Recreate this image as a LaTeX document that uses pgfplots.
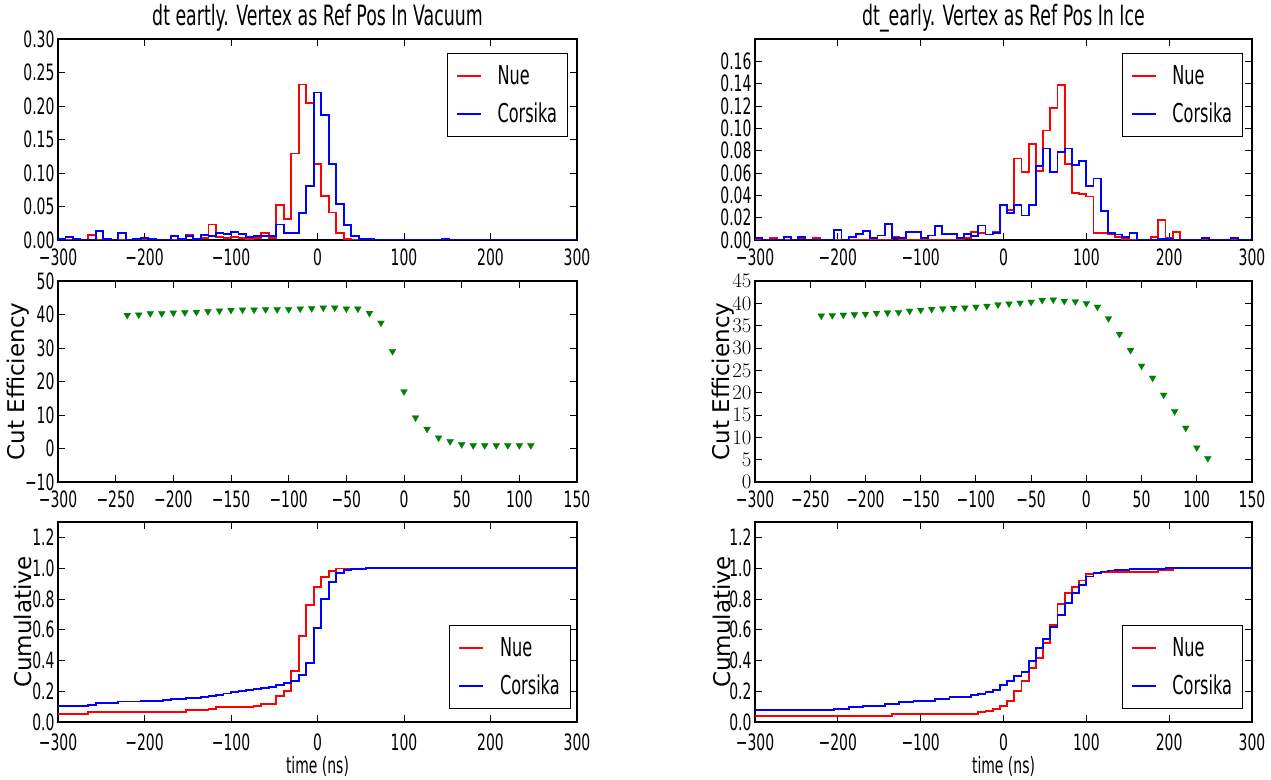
\documentclass[border=0pt]{standalone}
\usepackage{fontspec}
\setmainfont{DejaVu Sans}[FakeStretch=0.62]
\newfontfamily\ylabfont{DejaVu Sans}
\usepackage{pgfplots}
\pgfplotsset{compat=1.18}

\definecolor{mplgreen}{rgb}{0,0.5,0}

\pgfplotsset{
  mpl/.style={
    scale only axis,
    tick align=inside,
    major tick length=7pt,
    axis line style={line width=1.1pt},
    every tick/.append style={line width=0.8pt, black},
    tick label style={font=\fontsize{22.5}{24}\selectfont},
    xticklabel style={yshift=-5pt},
    title style={font=\fontsize{28}{30}\selectfont, at={(axis description cs:0.5,1.075)}, anchor=center},
    xlabel style={font=\fontsize{22.5}{24}\selectfont, at={(axis description cs:0.5,-0.222)}, anchor=center},
    ylabel style={font=\fontsize{23}{26}\ylabfont, anchor=center},
    legend style={draw=black, line width=1.2pt, font=\fontsize{26}{28}\selectfont,
      inner xsep=8.5pt, inner ysep=10pt, row sep=13pt, cells={anchor=west},
      /tikz/every odd column/.append style={column sep=14pt}},
    legend image code/.code={\draw[#1, line width=1.8pt] (0pt,0pt) -- (24pt,0pt);},
  },
  hist/.style={mpl, xmin=-300, xmax=300, ymin=0,
    xtick={-300,-200,...,300}, xticklabels={−300,−200,−100,0,100,200,300}},
  eff/.style={mpl, xmin=-300, xmax=150,
    xtick={-300,-250,...,150}, xticklabels={−300,−250,−200,−150,−100,−50,0,50,100,150},
    ylabel={Cut Efficiency}},
  cum/.style={mpl, xmin=-300, xmax=300, ymin=0, ymax=1.3,
    xtick={-300,-200,...,300}, xticklabels={−300,−200,−100,0,100,200,300},
    xticklabel style={yshift=-3pt},
    ytick={0,0.2,0.4,0.6,0.8,1.0,1.2}, yticklabels={0.0,0.2,0.4,0.6,0.8,1.0,1.2},
    xlabel={time (ns)}, ylabel={Cumulative}},
  nue/.style={red, line width=1.8pt, const plot},
  cors/.style={blue, line width=1.8pt, const plot},
  tri/.style={only marks, mplgreen, mark=triangle*, mark size=4pt,
    mark options={rotate=180, fill=mplgreen, draw=mplgreen, line width=0.2pt}},
}

\begin{document}
\begin{tikzpicture}
\useasboundingbox (0pt,0pt) rectangle (1271pt,779pt);

% ---------- top left: histogram, vacuum
\begin{axis}[hist, at={(58pt,539pt)}, anchor=south west, width=519pt, height=201pt,
  ymax=0.30, ytick={0,0.05,0.1,0.15,0.2,0.25,0.3},
  yticklabels={0.00,0.05,0.10,0.15,0.20,0.25,0.30},
  title={dt eartly. Vertex as Ref Pos In Vacuum},
  legend style={at={(0.983,0.930)}, anchor=north east}]
\addplot[nue] coordinates {
(-300,0) (-265.22,0.008) (-256.52,0) (-213.04,0.002) (-204.35,0) (-152.17,0.008)
(-143.48,0.001) (-134.78,0.003) (-126.09,0.023) (-117.39,0.004) (-108.70,0.003)
(-100.00,0.0045) (-91.30,0.003) (-82.61,0.002) (-73.91,0.003) (-65.22,0.011)
(-56.52,0.003) (-47.83,0.052) (-39.13,0.031) (-30.43,0.129) (-21.74,0.232)
(-13.04,0.205) (-4.35,0.114) (4.35,0.066) (13.04,0.041) (21.74,0.010)
(30.43,0.001) (39.13,0) (300,0)};
\addlegendentry{Nue}
\addplot[cors] coordinates {
(-300,0.001) (-291.30,0.004) (-282.61,0.001) (-273.91,0) (-256.52,0.014)
(-247.83,0.001) (-239.13,0) (-230.43,0.010) (-221.74,0) (-213.04,0.001)
(-204.35,0.003) (-195.65,0.001) (-186.96,0) (-169.57,0.006) (-160.87,0.002)
(-152.17,0.006) (-143.48,0.002) (-134.78,0.008) (-126.09,0.006) (-117.39,0.010)
(-108.70,0.009) (-100.00,0.012) (-91.30,0.009) (-82.61,0.004) (-73.91,0.006)
(-65.22,0.006) (-56.52,0.006) (-47.83,0.023) (-39.13,0.010) (-30.43,0.011)
(-21.74,0.040) (-13.04,0.080) (-4.35,0.220) (4.35,0.187) (13.04,0.114)
(21.74,0.054) (30.43,0.022) (39.13,0.006) (47.83,0.0015) (65.22,0)
(143.48,0.002) (152.17,0) (300,0)};
\addlegendentry{Corsika}
\end{axis}

% ---------- top right: histogram, ice
\begin{axis}[hist, at={(755pt,539pt)}, anchor=south west, width=497pt, height=201pt,
  ymax=0.18, ytick={0,0.02,0.04,0.06,0.08,0.10,0.12,0.14,0.16},
  yticklabels={0.00,0.02,0.04,0.06,0.08,0.10,0.12,0.14,0.16},
  title={dt\_early. Vertex as Ref Pos In Ice},
  legend style={at={(0.982,0.930)}, anchor=north east}]
\addplot[nue] coordinates {
(-300,0) (-282.61,0.0015) (-273.91,0) (-247.83,0.0015) (-239.13,0) (-230.43,0.0018)
(-221.74,0) (-134.78,0.003) (-126.09,0) (-47.83,0.0015) (-39.13,0.007)
(-30.43,0.006) (-21.74,0.005) (-13.04,0.0075) (-4.35,0.031) (4.35,0.027)
(13.04,0.073) (21.74,0.061) (30.43,0.086) (39.13,0.062) (47.83,0.098)
(56.52,0.1185) (65.22,0.139) (73.91,0.068) (82.61,0.042) (91.30,0.041)
(100.00,0.039) (108.70,0.0066) (126.09,0.005) (134.78,0.0024) (143.48,0.001)
(152.17,0) (178.26,0.003) (186.96,0.018) (195.65,0.0015) (204.35,0.0075)
(213.04,0) (300,0)};
\addlegendentry{Nue}
\addplot[cors] coordinates {
(-300,0.0015) (-291.30,0) (-265.22,0.003) (-256.52,0) (-247.83,0.003) (-239.13,0)
(-204.35,0.009) (-195.65,0) (-186.96,0.003) (-178.26,0.0054) (-169.57,0.0078)
(-160.87,0.0015) (-152.17,0.004) (-143.48,0.014) (-134.78,0.0015) (-117.39,0.007)
(-100.00,0.0015) (-91.30,0.004) (-82.61,0.0125) (-73.91,0.0054) (-56.52,0.0015)
(-47.83,0.0054) (-39.13,0.0036) (-30.43,0.013) (-21.74,0.005) (-13.04,0.006)
(-4.35,0.031) (4.35,0.024) (13.04,0.031) (21.74,0.022) (30.43,0.031)
(39.13,0.066) (47.83,0.082) (56.52,0.061) (65.22,0.0785) (73.91,0.082)
(82.61,0.067) (91.30,0.071) (100.00,0.048) (108.70,0.055) (117.39,0.026)
(126.09,0.0066) (134.78,0.005) (143.48,0.003) (152.17,0.006) (160.87,0)
(186.96,0.001) (204.35,0) (239.13,0.0015) (247.83,0) (273.91,0.0015)
(282.61,0) (300,0)};
\addlegendentry{Corsika}
\end{axis}

% ---------- middle left: cut efficiency, vacuum
\begin{axis}[eff, at={(58pt,297pt)}, anchor=south west, width=519pt, height=201pt,
  ymin=-10, ymax=50, ytick={-10,0,...,50}, yticklabels={−10,0,10,20,30,40,50},
  ylabel style={at={(axis description cs:-0.0765,0.5)}}]
\addplot[tri] coordinates {
(-240,39.8) (-230,39.9) (-220,40.3) (-210,40.3) (-200,40.5) (-190,40.6)
(-180,40.7) (-170,40.9) (-160,41.1) (-150,41.3) (-140,41.4) (-130,41.4)
(-120,41.5) (-110,41.5) (-100,41.5) (-90,41.7) (-80,41.8) (-70,42.0)
(-60,42.0) (-50,41.7) (-40,41.7) (-30,40.4) (-20,37.5) (-10,29.0)
(0,17.0) (10,9.2) (20,5.8) (30,3.2) (40,2.1) (50,1.2)
(60,0.9) (70,0.9) (80,0.9) (90,0.9) (100,0.9) (110,0.9)};
\end{axis}

% ---------- middle right: cut efficiency, ice
\begin{axis}[eff, at={(755pt,297pt)}, anchor=south west, width=497pt, height=201pt,
  ymin=0, ymax=45, ytick={0,5,...,45},
  ylabel style={at={(axis description cs:-0.0634,0.5)}}]
\addplot[tri] coordinates {
(-240,37.2) (-230,37.3) (-220,37.4) (-210,37.5) (-200,37.6) (-190,37.8)
(-180,37.9) (-170,38.0) (-160,38.3) (-150,38.5) (-140,38.7) (-130,38.8)
(-120,38.9) (-110,39.0) (-100,39.2) (-90,39.4) (-80,39.7) (-70,39.9)
(-60,40.1) (-50,40.3) (-40,40.7) (-30,40.8) (-20,40.5) (-10,40.4)
(0,40.0) (10,39.2) (20,36.6) (30,33.1) (40,29.5) (50,26.0)
(60,23.3) (70,19.5) (80,15.8) (90,12.1) (100,7.7) (110,5.3)};
\end{axis}

% ---------- bottom left: cumulative, vacuum
\begin{axis}[cum, at={(58pt,57pt)}, anchor=south west, width=519pt, height=200pt,
  ylabel style={at={(axis description cs:-0.0674,0.5)}},
  legend style={at={(0.988,0.065)}, anchor=south east}]
\addplot[nue] coordinates {
(-300,0.052) (-265.22,0.063) (-152.17,0.076) (-126.09,0.084) (-117.39,0.095)
(-73.91,0.106) (-65.22,0.119) (-47.83,0.171) (-39.13,0.199) (-30.43,0.333)
(-21.74,0.560) (-13.04,0.761) (-4.35,0.880) (4.35,0.945) (13.04,0.982)
(21.74,0.998) (56.52,1.0) (300,1.0)};
\addlegendentry{Nue}
\addplot[cors] coordinates {
(-300,0.106) (-265.22,0.113) (-256.52,0.125) (-230.43,0.133) (-204.35,0.137)
(-178.26,0.143) (-169.57,0.148) (-152.17,0.156) (-134.78,0.163) (-126.09,0.168)
(-117.39,0.176) (-108.70,0.185) (-100.00,0.195) (-91.30,0.204) (-82.61,0.210)
(-73.91,0.216) (-65.22,0.222) (-56.52,0.228) (-47.83,0.243) (-39.13,0.256)
(-30.43,0.268) (-21.74,0.307) (-13.04,0.383) (-4.35,0.610) (4.35,0.798)
(13.04,0.912) (21.74,0.966) (30.43,0.988) (39.13,0.994) (47.83,0.997)
(56.52,1.0) (300,1.0)};
\addlegendentry{Corsika}
\end{axis}

% ---------- bottom right: cumulative, ice
\begin{axis}[cum, at={(755pt,57pt)}, anchor=south west, width=497pt, height=200pt,
  ylabel style={at={(axis description cs:-0.0674,0.5)}},
  legend style={at={(0.982,0.065)}, anchor=south east}]
\addplot[nue] coordinates {
(-300,0.041) (-134.78,0.052) (-30.43,0.063) (-21.74,0.074) (-13.04,0.084)
(-4.35,0.106) (4.35,0.134) (13.04,0.203) (21.74,0.268) (30.43,0.351)
(39.13,0.416) (47.83,0.513) (56.52,0.632) (65.22,0.766) (73.91,0.838)
(82.61,0.877) (91.30,0.920) (100.00,0.961) (108.70,0.970) (117.39,0.975)
(186.96,0.990) (204.35,1.0) (300,1.0)};
\addlegendentry{Nue}
\addplot[cors] coordinates {
(-300,0.076) (-204.35,0.087) (-186.96,0.097) (-169.57,0.106) (-143.48,0.117)
(-126.09,0.128) (-108.70,0.139) (-82.61,0.149) (-65.22,0.160) (-39.13,0.173)
(-30.43,0.182) (-21.74,0.193) (-13.04,0.210) (-4.35,0.238) (4.35,0.264)
(13.04,0.297) (21.74,0.323) (30.43,0.398) (39.13,0.480) (47.83,0.539)
(56.52,0.615) (65.22,0.697) (73.91,0.773) (82.61,0.838) (91.30,0.892)
(100.00,0.946) (108.70,0.968) (117.39,0.978) (126.09,0.985) (134.78,0.989)
(152.17,0.995) (195.65,1.0) (300,1.0)};
\addlegendentry{Corsika}
\end{axis}
\end{tikzpicture}
\end{document}
